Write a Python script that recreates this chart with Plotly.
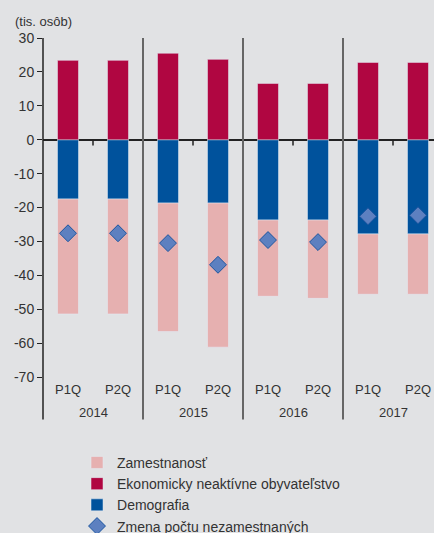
import plotly.graph_objects as go

years = ["2014", "2014", "2015", "2015", "2016", "2016", "2017", "2017"]
quarters = ["P1Q", "P2Q", "P1Q", "P2Q", "P1Q", "P2Q", "P1Q", "P2Q"]
zamestnanost = [-33.9, -33.9, -37.9, -42.5, -22.5, -23.1, -17.8, -17.8]
neaktivne = [23.4, 23.4, 25.5, 23.7, 16.6, 16.6, 22.8, 22.8]
demografia = [-17.5, -17.5, -18.7, -18.7, -23.7, -23.7, -27.8, -27.8]
zmena = [-27.6, -27.6, -30.5, -36.9, -29.6, -30.2, -22.6, -22.3]
year_labels = ["2014", "2015", "2016", "2017"]
y_tickvals = [30, 20, 10, 0, -10, -20, -30, -40, -50, -60, -70]
y_ticktext = ["30", "20", "10", "0", "-10", "-20", "-30", "-40", "-50", "-60", "-70"]

FONT = "Liberation Sans"
BG = "#e1e2e4"
xpos = list(range(len(quarters)))

fig = go.Figure()
fig.add_trace(go.Bar(x=xpos, y=demografia, name="Demografia", marker_color="#00529c",
                     width=0.42, legendrank=3))
fig.add_trace(go.Bar(x=xpos, y=zamestnanost, name="Zamestnanosť", marker_color="#e6b0b0",
                     width=0.42, legendrank=1))
fig.add_trace(go.Bar(x=xpos, y=neaktivne, name="Ekonomicky neaktívne obyvateľstvo",
                     marker_color="#b00641", width=0.42, legendrank=2))
fig.add_trace(go.Scatter(x=xpos, y=zmena, name="Zmena počtu nezamestnaných", mode="markers",
                         marker=dict(symbol="diamond", size=13, color="#5d80c0",
                                     line=dict(color="#1b55a0", width=1)),
                         legendrank=4))

shapes = []
for i in range(1, len(year_labels)):
    xs = 2 * i - 0.5
    shapes.append(dict(type="line", xref="x", yref="paper", x0=xs, x1=xs, y0=-0.125, y1=1,
                       line=dict(color="#666666", width=2)))
shapes.append(dict(type="line", xref="paper", yref="paper", x0=0, x1=0, y0=-0.125, y1=1,
                   line=dict(color="#222222", width=1.5)))
for i in range(len(year_labels)):
    xc = 2 * i + 0.5
    shapes.append(dict(type="line", xref="x", yref="y", x0=xc, x1=xc, y0=0, y1=-1.7,
                       line=dict(color="#222222", width=1.5)))

annotations = [dict(text="(tis. osôb)", xref="paper", yref="paper", x=-0.077, y=1.049,
                    xanchor="left", yanchor="middle", showarrow=False,
                    font=dict(size=13, color="#333333"))]
for i, yl in enumerate(year_labels):
    annotations.append(dict(text=yl, xref="x", yref="paper", x=2 * i + 0.5, y=-0.104,
                            xanchor="center", yanchor="middle", showarrow=False,
                            font=dict(size=13, color="#333333")))

fig.update_layout(
    width=434, height=533,
    margin=dict(l=43, r=0, t=38, b=156, autoexpand=False),
    paper_bgcolor=BG, plot_bgcolor=BG,
    barmode="relative",
    font=dict(family=FONT, size=13, color="#333333"),
    showlegend=True,
    legend=dict(x=0.087, y=-0.206, xanchor="left", yanchor="top",
                font=dict(size=14, color="#333333"), bgcolor="rgba(0,0,0,0)",
                traceorder="normal", itemwidth=30, tracegroupgap=0),
    shapes=shapes,
    annotations=annotations,
)
fig.update_yaxes(range=[-70, 30], tickvals=y_tickvals, ticktext=y_ticktext,
                 showgrid=False, zeroline=True,
                 zerolinecolor="#222222", zerolinewidth=1.5, showline=False,
                 ticks="outside", ticklen=5, tickcolor="#222222", tickwidth=1,
                 tickfont=dict(size=14, color="#333333"), automargin=False)
fig.update_xaxes(range=[-0.5, 7.32], tickvals=xpos, ticktext=quarters,
                 showgrid=False, showline=False, zeroline=False, ticklabelstandoff=3,
                 ticks="", tickfont=dict(size=13, color="#333333"), automargin=False)

fig.write_html("out.html")
